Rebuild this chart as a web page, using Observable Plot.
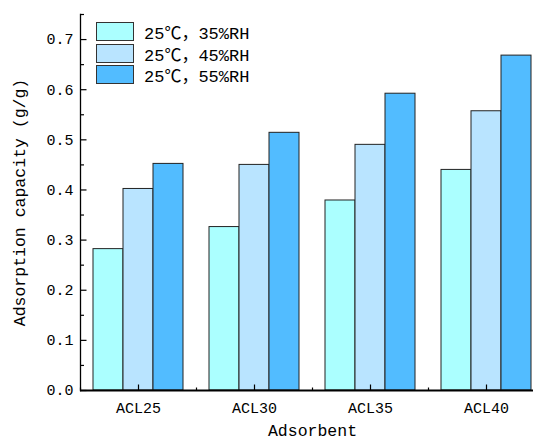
<!DOCTYPE html>
<html>
<head>
<meta charset="utf-8">
<script src="https://cdn.jsdelivr.net/npm/d3@7"></script>
<script src="https://cdn.jsdelivr.net/npm/@observablehq/plot@0.6"></script>
<style>
  html, body { margin: 0; padding: 0; overflow: hidden; background: #fff; }
  #wrap { position: relative; width: 533px; height: 440px; overflow: hidden; }
  #wrap svg { max-width: none !important; display: block; }
  #legend { position: absolute; left: 96px; top: 21px; font-family: "Liberation Mono", "Noto Sans CJK SC", monospace; font-size: 17px; color: #000; }
  .row { display: flex; align-items: center; height: 21.5px; }
  .sw { width: 36px; height: 17px; border: 1px solid #333; margin-right: 10px; box-sizing: content-box; }
</style>
</head>
<body>
<div id="wrap"><div id="legend"></div></div>
<script>
// Adsorbent samples and humidity conditions
const categories = ["ACL25", "ACL30", "ACL35", "ACL40"];
const conditions = ["25℃，35%RH", "25℃，45%RH", "25℃，55%RH"];

// Adsorption capacity (g/g) per condition, one value per adsorbent
const rh35 = [0.282, 0.326, 0.379, 0.440];
const rh45 = [0.402, 0.450, 0.490, 0.557];
const rh55 = [0.452, 0.514, 0.592, 0.668];

const colors = ["#abffff", "#b9e4ff", "#52bcff"];
const yTicks = [0, 0.1, 0.2, 0.3, 0.4, 0.5, 0.6, 0.7];
const yMinorTicks = [0.05, 0.15, 0.25, 0.35, 0.45, 0.55, 0.65, 0.75];

const series = [rh35, rh45, rh55];
const rows = [];
categories.forEach((c, i) => {
  conditions.forEach((k, j) => rows.push({adsorbent: c, condition: k, value: series[j][i]}));
});

// Inward tick symbols: up from the baseline, right from the left axis
const tickUp = (len) => ({draw(ctx) { ctx.moveTo(0, 0); ctx.lineTo(0, -len); }});
const tickRight = (len) => ({draw(ctx) { ctx.moveTo(0, 0); ctx.lineTo(len, 0); }});

const font = `"Liberation Mono", "Noto Sans CJK SC", monospace`;

const chart = Plot.plot({
  width: 544,
  height: 440,
  marginLeft: 80,
  marginRight: 0,
  marginTop: 14,
  marginBottom: 50,
  style: {fontFamily: font, fontSize: "15px", color: "#000", background: "#fff"},
  fx: {domain: categories, padding: 0, label: null},
  x: {domain: conditions, axis: null, paddingInner: 0, paddingOuter: 0.371},
  y: {domain: [0, 0.75]},
  color: {domain: conditions, range: colors},
  marks: [
    Plot.barY(rows, {fx: "adsorbent", x: "condition", y: "value", fill: "condition", stroke: "#222", strokeWidth: 1}),
    Plot.ruleY([0], {stroke: "#000", strokeWidth: 2.2}),
    Plot.frame({anchor: "left", facetAnchor: "left", stroke: "#000", strokeWidth: 1.3}),
    Plot.dot([0], {frameAnchor: "bottom", symbol: tickUp(6), stroke: "#000", fill: "none", strokeWidth: 1.2}),
    Plot.dot([0], {frameAnchor: "bottom-left", symbol: tickUp(3), stroke: "#000", fill: "none", strokeWidth: 1.2}),
    Plot.dot(yTicks, {y: d => d, frameAnchor: "left", facetAnchor: "left", symbol: tickRight(6), stroke: "#000", fill: "none", strokeWidth: 1.2}),
    Plot.dot(yMinorTicks, {y: d => d, frameAnchor: "left", facetAnchor: "left", symbol: tickRight(3.5), stroke: "#000", fill: "none", strokeWidth: 1.2}),
    Plot.axisY(yTicks, {anchor: "left", tickSize: 0, tickPadding: 7, tickFormat: d3.format(".1f"),
      label: "Adsorption capacity (g/g)", labelAnchor: "center", labelArrow: "none", labelOffset: 67,
      fontSize: 15}),
    Plot.axisFx({anchor: "bottom", tickSize: 0, tickPadding: 12, label: "Adsorbent", labelAnchor: "center",
      labelArrow: "none", labelOffset: 45, fontSize: 15})
  ]
});

const wrap = document.getElementById("wrap");
wrap.insertBefore(chart, wrap.firstChild);

// Axis titles are a little larger than tick labels
d3.select(chart).selectAll("g[aria-label='y-axis label'] text, g[aria-label='fx-axis label'] text")
  .style("font-size", "16.5px");

// Legend drawn from the same condition names and colours
const legend = d3.select("#legend");
conditions.forEach((k, i) => {
  const row = legend.append("div").attr("class", "row");
  row.append("div").attr("class", "sw").style("background", colors[i]);
  row.append("span").text(k);
});
</script>
</body>
</html>
